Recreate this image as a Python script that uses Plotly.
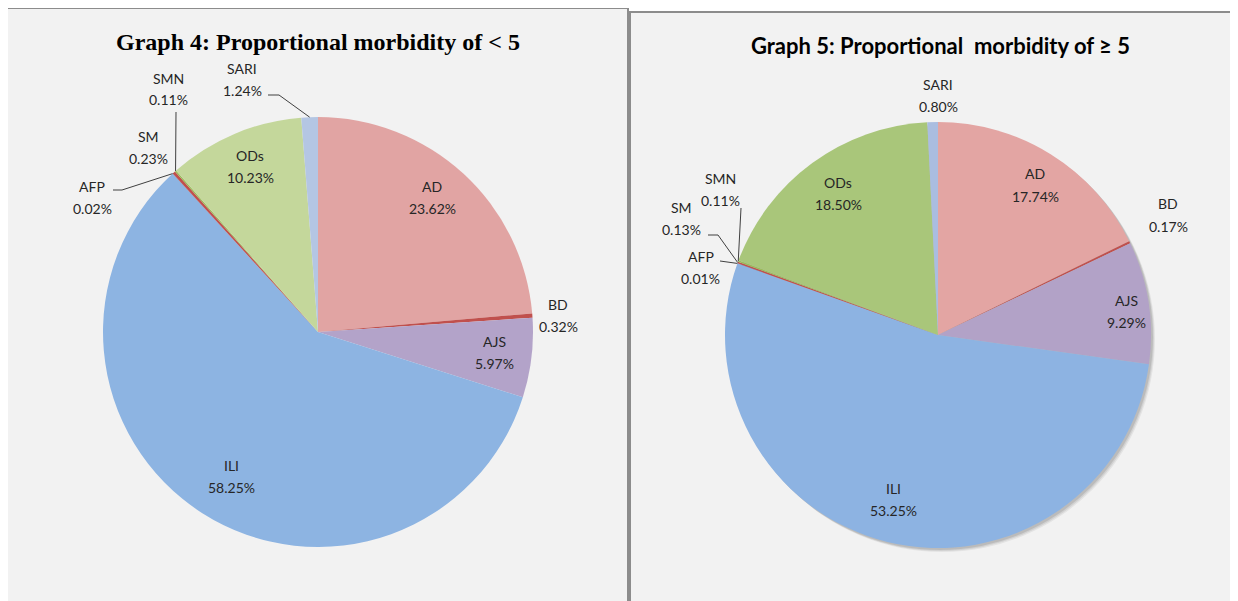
import math
import plotly.graph_objects as go

# ---------------- data ----------------
categories = ["AD", "BD", "AJS", "ILI", "AFP", "SM", "SMN", "ODs", "SARI"]
under5_pct = [23.62, 0.32, 5.97, 58.25, 0.02, 0.23, 0.11, 10.23, 1.24]
over5_pct = [17.74, 0.17, 9.29, 53.25, 0.01, 0.13, 0.11, 18.50, 0.80]
title_left = "Graph 4: Proportional morbidity of < 5"
title_right = "Graph 5: Proportional  morbidity of \u2265 5"

# ---------------- styling / layout ----------------
W, H = 1238, 601          # browser window
OFF = 8                   # default body margin of the html page
FW, FH = W - OFF, H - OFF  # figure size so it fills the window

colors_left = ["#e1a4a3", "#c0504d", "#b3a3c9", "#8db4e2", "#4f81bd",
               "#c0504d", "#9bbb59", "#c4d79b", "#b4c6e3"]
colors_right = ["#e3a5a3", "#c0504d", "#b2a2c7", "#8db3e2", "#4f81bd",
                "#c0504d", "#9bbb59", "#a9c67a", "#aabde0"]

pie_left = dict(cx=318, cy=332, r=215)
pie_right = dict(cx=938, cy=335, r=213)

# label centres in window pixels (text placement only)
labels_left = {"AD": (432, 197), "BD": (558, 315), "AJS": (494, 352), "ILI": (231, 476),
               "AFP": (92, 197), "SM": (148, 147), "SMN": (168, 89), "ODs": (250, 166),
               "SARI": (242, 80)}
labels_right = {"AD": (1035, 185), "BD": (1168, 215), "AJS": (1126, 311), "ILI": (893, 499),
                "AFP": (701, 267), "SM": (681, 218), "SMN": (720, 189), "ODs": (838, 194),
                "SARI": (938, 96)}
# leader line start points (near labels); the end is the slice edge
leaders_left = {"SARI": [(268, 95), (279, 95)], "SMN": [(176, 112)], "AFP": [(113, 190), (122, 190)]}
leaders_right = {"SMN": [(741, 208)], "SM": [(708, 235), (718, 235)], "AFP": [(720, 261)]}

FONT = "Lato"
TXT = "#262626"


def px(x):
    return (x - OFF) / FW


def py(y):
    return 1 - (y - OFF) / FH


def edge_point(values, idx, pie):
    total = sum(values)
    before = sum(values[:idx])
    th = 2 * math.pi * (before + values[idx] / 2) / total
    return (pie["cx"] + pie["r"] * math.sin(th), pie["cy"] - pie["r"] * math.cos(th))


def pie_trace(values, colors, pie):
    cx, cy, r = pie["cx"], pie["cy"], pie["r"]
    return go.Pie(
        labels=categories, values=values, sort=False, direction="clockwise",
        rotation=0, marker=dict(colors=colors, line=dict(width=0)),
        textinfo="none", hoverinfo="label+value", showlegend=False,
        domain=dict(x=[px(cx - r), px(cx + r)], y=[py(cy + r), py(cy - r)]),
    )


fig = go.Figure()
fig.add_trace(pie_trace(under5_pct, colors_left, pie_left))
fig.add_trace(pie_trace(over5_pct, colors_right, pie_right))

shapes = []
# panels
shapes.append(dict(type="rect", xref="paper", yref="paper", layer="below",
                   x0=px(6), x1=px(628), y0=py(640), y1=py(8),
                   fillcolor="#f2f2f2", line=dict(color="#8c8c8c", width=2)))
shapes.append(dict(type="rect", xref="paper", yref="paper", layer="below",
                   x0=px(630), x1=px(1280), y0=py(640), y1=py(12),
                   fillcolor="#f2f2f2", line=dict(color="#8c8c8c", width=2)))
# soft shadow behind right pie
for off, alpha in [(4, 0.06), (3, 0.08), (2, 0.10)]:
    c = pie_right
    shapes.append(dict(type="circle", xref="paper", yref="paper", layer="below",
                       x0=px(c["cx"] - c["r"] + off), x1=px(c["cx"] + c["r"] + off),
                       y0=py(c["cy"] + c["r"] + off), y1=py(c["cy"] - c["r"] + off),
                       fillcolor=f"rgba(0,0,0,{alpha})", line=dict(width=0)))


def add_leaders(values, pie, leaders):
    for name, pts in leaders.items():
        ex, ey = edge_point(values, categories.index(name), pie)
        allp = pts + [(ex, ey)]
        path = "M " + " L ".join(f"{px(x)},{py(y)}" for x, y in allp)
        shapes.append(dict(type="path", xref="paper", yref="paper", path=path,
                           line=dict(color="#404040", width=1)))


add_leaders(under5_pct, pie_left, leaders_left)
add_leaders(over5_pct, pie_right, leaders_right)

annotations = []


def add_labels(values, label_pos):
    for name, v in zip(categories, values):
        x, y = label_pos[name]
        for txt, yy in [(name, y - 11), (f"{v:.2f}%", y + 11)]:
            annotations.append(dict(text=txt, x=px(x), y=py(yy), xref="paper", yref="paper",
                                    showarrow=False, xanchor="center", yanchor="middle",
                                    font=dict(family=FONT, size=14, color=TXT)))


add_labels(under5_pct, labels_left)
add_labels(over5_pct, labels_right)

annotations.append(dict(text=f"<b>{title_left}</b>", x=px(318), y=py(42), xref="paper", yref="paper",
                        showarrow=False, xanchor="center", yanchor="middle",
                        font=dict(family="Liberation Serif", size=24, color="#000000")))
annotations.append(dict(text=f"<b>{title_right}</b>", x=px(940), y=py(46), xref="paper", yref="paper",
                        showarrow=False, xanchor="center", yanchor="middle",
                        font=dict(family=FONT, size=22, color="#000000")))

fig.update_layout(width=FW, height=FH, margin=dict(l=0, r=0, t=0, b=0),
                  paper_bgcolor="#ffffff", plot_bgcolor="#ffffff",
                  shapes=shapes, annotations=annotations)

fig.write_html("out.html")
